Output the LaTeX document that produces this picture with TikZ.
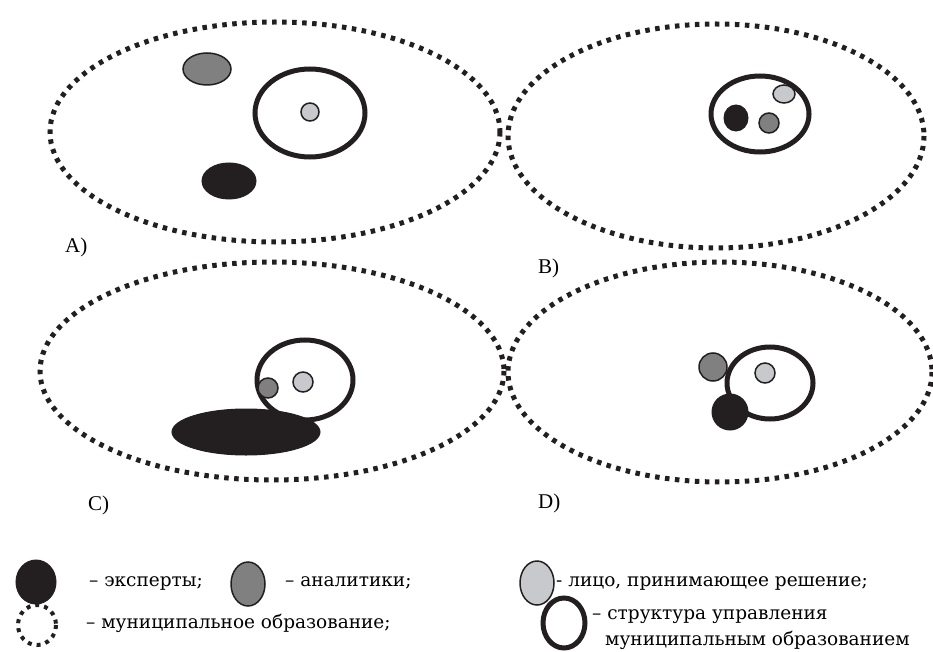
\documentclass[tikz,border=0pt]{standalone}
\usepackage{fontspec}
\setmainfont{DejaVu Serif}
\newfontfamily\tagfont{Liberation Serif}
\begin{document}
\begin{tikzpicture}[x=1pt,y=-1pt,
  municip/.style={draw=ink,line width=5pt,dash pattern=on 4.5pt off 5.5pt},
  ring/.style={draw=ink,line width=5pt},
  expert/.style={fill=ink,draw=ink,line width=1pt},
  analyst/.style={fill=anagray,draw=ink,line width=1.5pt},
  dm/.style={fill=dmgray,draw=ink,line width=1.5pt},
  lbl/.style={font=\fontsize{18.5}{20}\selectfont,anchor=west,inner sep=0pt},
  tag/.style={font=\tagfont\fontsize{21}{24}\selectfont,anchor=west,inner sep=0pt}]
\definecolor{ink}{HTML}{231F20}
\definecolor{anagray}{HTML}{808080}
\definecolor{dmgray}{HTML}{C8C9CC}
\useasboundingbox (0,0) rectangle (933,652);
% ---- A ----
\draw[municip] (275,132) ellipse [x radius=225,y radius=110];
\draw[ring] (310,113) ellipse [x radius=55,y radius=44];
\draw[dm] (310,112) ellipse [x radius=9,y radius=9];
\draw[analyst] (207,69) ellipse [x radius=24,y radius=16];
\draw[expert] (229,181) ellipse [x radius=27,y radius=18];
\node[tag] (la) at (65,247) {A)};
% ---- B ----
\draw[municip] (716,136) ellipse [x radius=208,y radius=112];
\draw[ring] (760,114) ellipse [x radius=49,y radius=38];
\draw[dm] (784,94) ellipse [x radius=11,y radius=9];
\draw[expert] (736,118) ellipse [x radius=12,y radius=13];
\draw[analyst] (769,123) ellipse [x radius=10,y radius=10];
\node[tag] (lb) at (538,268) {B)};
% ---- C ----
\draw[municip] (272,371) ellipse [x radius=232,y radius=109];
\draw[ring] (305,380) ellipse [x radius=48,y radius=40];
\draw[expert] (246,432) ellipse [x radius=74,y radius=23];
\draw[analyst] (268,388) ellipse [x radius=10,y radius=10];
\draw[dm] (303,382) ellipse [x radius=10,y radius=10];
\node[tag] (lc) at (88,505) {C)};
% ---- D ----
\draw[municip] (720,372) ellipse [x radius=212,y radius=110];
\draw[ring] (770,383) ellipse [x radius=43,y radius=36];
\draw[analyst] (713,367) ellipse [x radius=14,y radius=14];
\draw[dm] (765,373) ellipse [x radius=10,y radius=10];
\draw[expert] (730,412) ellipse [x radius=18,y radius=18];
\node[tag] (ld) at (538,503) {D)};
% ---- legend ----
\draw[expert] (36,582) ellipse [x radius=20,y radius=22];
\node[lbl] (t1) at (89,583) {– эксперты;};
\draw[analyst] (248,584) ellipse [x radius=17,y radius=22];
\node[lbl] (t2) at (285,583) {– аналитики;};
\draw[municip,line width=4pt,dash pattern=on 4pt off 5pt] (37,625) ellipse [x radius=19,y radius=20];
\node[lbl] (t3) at (86,623) {– муниципальное образование;};
\draw[dm] (537,583) ellipse [x radius=17,y radius=22];
\node[lbl] (t4) at (556,583) {- лицо, принимающее решение;};
\draw[ring] (564,623) ellipse [x radius=21,y radius=25];
\node[lbl] (t5) at (592,617) {– структура управления};
\node[lbl] (t6) at (605,640) {муниципальным образованием};
\end{tikzpicture}
\end{document}
